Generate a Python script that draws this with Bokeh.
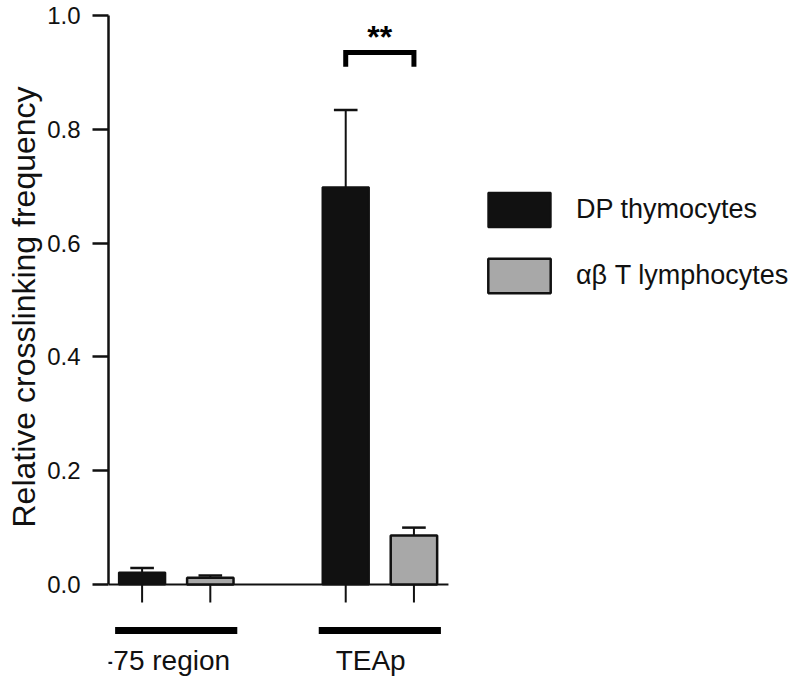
from bokeh.plotting import figure
from bokeh.models import Range1d, FixedTicker, PrintfTickFormatter, Legend, LegendItem, Title
from bokeh.core.properties import value
from bokeh.embed import file_html
from bokeh.resources import INLINE

# ---- data ----
groups = ["-75 region", "TEAp"]
series = ["DP thymocytes", "αβ T lymphocytes"]
dp_mean = [0.021, 0.698]
dp_sem = [0.008, 0.136]
ab_mean = [0.012, 0.086]
ab_sem = [0.004, 0.014]
y_ticks = [0.0, 0.2, 0.4, 0.6, 0.8, 1.0]
y_title = "Relative crosslinking frequency"
significance = "**"

FONT = "Liberation Sans"
DARK = "#111111"
GREY = "#a8a8a8"

gx = [1.0 + i for i in range(len(groups))]
off = 0.1675
bw = 0.228
cap = 0.058

p = figure(width=788, height=680, output_backend="svg", toolbar_location=None,
           x_range=Range1d(0.6675, 4.007), y_range=Range1d(-0.1687, 1.0264),
           x_axis_location=None,
           min_border_left=108, min_border_right=0, min_border_top=0, min_border_bottom=0)
p.grid.visible = False
p.outline_line_color = None
p.background_fill_color = "white"

ax = p.yaxis[0]
ax.ticker = FixedTicker(ticks=y_ticks)
ax.formatter = PrintfTickFormatter(format="%.1f")
ax.bounds = (0, 1)
ax.axis_line_width = 2.5
ax.axis_line_color = DARK
ax.major_tick_line_width = 2.5
ax.major_tick_line_color = DARK
ax.major_tick_out = 16
ax.major_tick_in = 0
ax.minor_tick_line_color = None
ax.major_label_text_font = FONT
ax.major_label_text_font_size = "24px"
ax.major_label_text_color = "#111111"
ax.major_label_standoff = 12

# y-axis title, starting near the axis' 0 end and running up
p.add_layout(Title(text=y_title, align="left", offset=153, standoff=6,
                   text_font=FONT, text_font_size="32px", text_font_style="normal",
                   text_color="#111111"), "left")

dp_x = [g - off for g in gx]
ab_x = [g + off for g in gx]

# x axis baseline (continues the 0.0 tick)
p.segment(x0=[p.x_range.start], y0=[0], x1=[gx[-1] + 0.337], y1=[0], line_color=DARK, line_width=2)

# error bars (upper only)
for xs, m, s in ((dp_x, dp_mean, dp_sem), (ab_x, ab_mean, ab_sem)):
    tops = [a + b for a, b in zip(m, s)]
    p.segment(x0=xs, y0=m, x1=xs, y1=tops, line_color=DARK, line_width=2)
    p.segment(x0=[x - cap for x in xs], y0=tops, x1=[x + cap for x in xs], y1=tops,
              line_color=DARK, line_width=2.5)

r_dp = p.vbar(x=dp_x, top=dp_mean, bottom=0, width=bw, fill_color=DARK, line_color=DARK, line_width=2)
r_ab = p.vbar(x=ab_x, top=ab_mean, bottom=0, width=bw, fill_color=GREY, line_color=DARK, line_width=2.5)

# ticks below the baseline under each bar
allx = dp_x + ab_x
p.segment(x0=allx, y0=[0] * len(allx), x1=allx, y1=[-0.0316] * len(allx), line_color=DARK, line_width=2)

# group bars and labels
p.segment(x0=[g - 0.3 for g in gx], y0=[-0.081] * len(gx), x1=[g + 0.3 for g in gx], y1=[-0.081] * len(gx),
          line_color="black", line_width=7, line_cap="butt")
p.text(x=[g - 0.045 for g in gx], y=[-0.134] * len(gx), text=groups, text_align="center",
       text_baseline="alphabetic", text_font=value(FONT), text_font_size="28px", text_color="#111111")

# significance bracket on TEAp
g2 = gx[1]
p.line(x=[dp_x[1], dp_x[1], ab_x[1], ab_x[1]], y=[0.910, 0.935, 0.935, 0.910],
       line_color="black", line_width=5, line_join="miter")
p.text(x=[g2], y=[0.962], text=[significance], text_align="center", text_baseline="alphabetic",
       text_font=value(FONT), text_font_style="bold", text_font_size="32px", text_color="black")

legend = Legend(items=[LegendItem(label=series[0], renderers=[r_dp]),
                       LegendItem(label=series[1], renderers=[r_ab])],
                location=(372, 383), glyph_width=78, glyph_height=43, label_height=43,
                spacing=23, label_standoff=18, padding=0, margin=0,
                border_line_color=None, background_fill_alpha=0,
                label_text_font=FONT, label_text_font_size="27px", label_text_color="#111111")
p.add_layout(legend)

open("out.html", "w").write(file_html(p, INLINE))
